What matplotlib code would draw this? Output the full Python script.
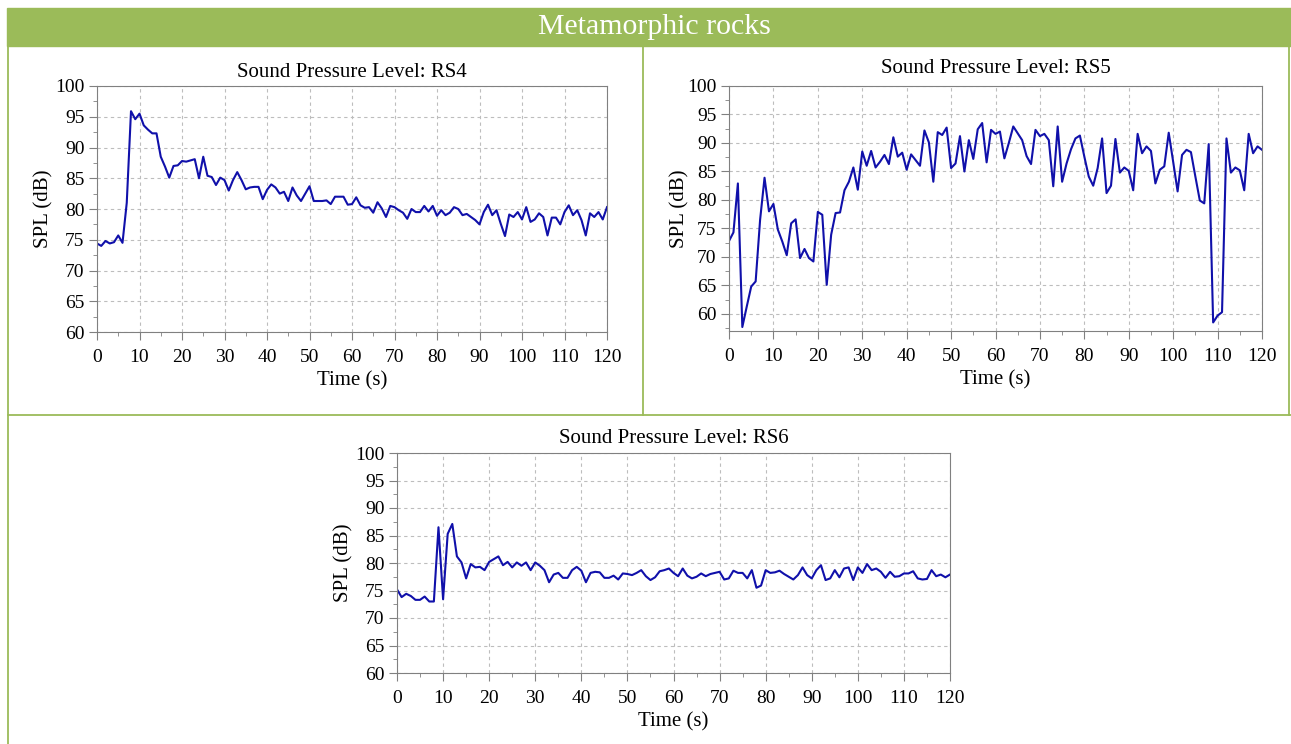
import numpy as np
import matplotlib.pyplot as plt
from matplotlib.lines import Line2D
from matplotlib.patches import Rectangle
from matplotlib.ticker import MultipleLocator

plt.rcParams['font.family'] = ['Liberation Serif', 'DejaVu Serif']

# Time axis: one reading per second
time_s = np.arange(0, 121)

# Sound pressure level readings (dB)
spl_rs4 = [
    74.4, 74.0, 74.8, 74.4, 74.6, 75.7, 74.5, 81.0, 95.9, 94.6,
    95.5, 93.6, 92.9, 92.3, 92.3, 88.5, 86.9, 85.1, 87.0, 87.1,
    87.8, 87.7, 87.9, 88.1, 85.0, 88.5, 85.4, 85.2, 83.9, 85.1,
    84.7, 83.0, 84.7, 86.0, 84.7, 83.2, 83.5, 83.6, 83.6, 81.6,
    83.1, 84.0, 83.5, 82.5, 82.8, 81.3, 83.5, 82.2, 81.3, 82.5,
    83.7, 81.3, 81.3, 81.3, 81.4, 80.8, 82.0, 82.0, 82.0, 80.7,
    80.8, 81.9, 80.6, 80.2, 80.3, 79.4, 81.1, 80.1, 78.7, 80.5,
    80.3, 79.8, 79.4, 78.4, 80.0, 79.5, 79.5, 80.5, 79.6, 80.5,
    78.9, 79.8, 79.0, 79.4, 80.3, 80.0, 79.0, 79.2, 78.7, 78.2,
    77.5, 79.5, 80.7, 79.0, 79.8, 77.6, 75.6, 79.1, 78.7, 79.5,
    78.3, 80.3, 77.9, 78.3, 79.3, 78.7, 75.7, 78.6, 78.6, 77.5,
    79.5, 80.6, 79.0, 79.8, 78.2, 75.7, 79.3, 78.7, 79.5, 78.3,
    80.3,
]

spl_rs5 = [
    72.8, 74.3, 82.9, 57.7, 61.3, 64.8, 65.7, 76.5, 83.9, 78.0,
    79.3, 74.8, 72.7, 70.3, 75.9, 76.6, 69.8, 71.4, 69.8, 69.2,
    77.9, 77.4, 65.1, 73.9, 77.7, 77.8, 81.7, 83.2, 85.7, 81.8,
    88.5, 86.0, 88.6, 85.7, 86.7, 87.9, 86.3, 91.0, 87.6, 88.3,
    85.3, 88.0, 87.0, 86.0, 92.2, 90.1, 83.2, 91.9, 91.4, 92.7,
    85.6, 86.4, 91.2, 85.0, 90.5, 87.2, 92.4, 93.5, 86.6, 92.3,
    91.6, 92.0, 87.3, 90.0, 92.9, 91.7, 90.5, 87.7, 86.3, 92.3,
    91.2, 91.6, 90.5, 82.4, 92.9, 83.2, 86.4, 88.9, 90.8, 91.3,
    87.6, 84.1, 82.5, 85.6, 90.8, 81.2, 82.5, 90.7, 84.8, 85.7,
    85.1, 81.7, 91.6, 88.2, 89.4, 88.6, 82.9, 85.3, 85.9, 91.8,
    86.7, 81.5, 87.9, 88.8, 88.4, 84.1, 79.9, 79.4, 89.8, 58.5,
    59.7, 60.3, 90.8, 84.8, 85.7, 85.2, 81.7, 91.6, 88.2, 89.4,
    88.8,
]

spl_rs6 = [
    75.2, 73.8, 74.4, 74.0, 73.3, 73.3, 73.9, 73.0, 73.0, 86.5,
    73.4, 85.3, 87.1, 81.2, 80.1, 77.2, 79.8, 79.2, 79.3, 78.7,
    80.2, 80.7, 81.2, 79.6, 80.2, 79.2, 80.1, 79.5, 80.1, 78.7,
    80.1, 79.5, 78.7, 76.5, 77.9, 78.2, 77.3, 77.3, 78.7, 79.3,
    78.6, 76.5, 78.2, 78.4, 78.3, 77.3, 77.3, 77.7, 77.0, 78.1,
    78.0, 77.8, 78.2, 78.7, 77.6, 76.9, 77.4, 78.5, 78.7, 79.0,
    78.2, 77.6, 79.0, 77.7, 77.2, 77.5, 78.1, 77.6, 78.0, 78.2,
    78.4, 77.0, 77.2, 78.6, 78.2, 78.2, 77.2, 78.7, 75.5, 75.9,
    78.7, 78.2, 78.3, 78.6, 78.0, 77.5, 77.0, 77.8, 79.2, 77.8,
    77.2, 78.7, 79.6, 76.9, 77.2, 78.7, 77.4, 79.0, 79.2, 76.9,
    79.2, 78.2, 79.8, 78.7, 79.0, 78.4, 77.3, 78.4, 77.5, 77.6,
    78.1, 78.1, 78.5, 77.2, 77.0, 77.1, 78.7, 77.6, 77.9, 77.4,
    77.9,
]

W, H = 1291, 744
fig = plt.figure(figsize=(W / 100, H / 100), dpi=100)

def fx(px):
    return px / W

def fy(py):
    return 1 - py / H

green = '#9BBB59'

# banner and table borders
fig.patches.append(Rectangle((fx(7), fy(46)), fx(W - 7), fy(8) - fy(46),
                             transform=fig.transFigure, color=green, zorder=0))
fig.text(fx(654), fy(27), 'Metamorphic rocks', color='white',
         ha='center', va='center', fontsize=21.5)
border = dict(color=green, lw=1.3, transform=fig.transFigure)
fig.lines.append(Line2D([fx(8), fx(8)], [fy(46), 0], **border))
fig.lines.append(Line2D([fx(643), fx(643)], [fy(46), fy(415)], **border))
fig.lines.append(Line2D([fx(1289), fx(1289)], [fy(46), fy(415)], **border))
fig.lines.append(Line2D([fx(8), 1], [fy(415), fy(415)], **border))

def spl_panel(rect, values, name, ylo, pad, ypad):
    left, top, right, bottom = rect
    ax = fig.add_axes([fx(left), fy(bottom), fx(right - left), fy(top) - fy(bottom)])
    ax.plot(time_s, values, color='#1010AA', lw=1.5)
    ax.set_xlim(0, 120)
    ax.set_ylim(ylo, 100)
    ax.xaxis.set_major_locator(MultipleLocator(10))
    ax.xaxis.set_minor_locator(MultipleLocator(5))
    ax.yaxis.set_major_locator(MultipleLocator(5))
    ax.yaxis.set_minor_locator(MultipleLocator(2.5))
    ax.tick_params(which='major', length=6, color='#808080', labelsize=14, pad=3)
    ax.tick_params(axis='x', which='major', pad=6.5)
    ax.tick_params(which='minor', length=3, color='#808080')
    ax.grid(True, which='major', color='#BDBDBD', linestyle=(0, (3, 3)), lw=0.8)
    for s in ax.spines.values():
        s.set_color('#808080')
    ax.set_title('Sound Pressure Level: ' + name, fontsize=15, pad=pad)
    ax.set_xlabel('Time (s)', fontsize=15, labelpad=3.5)
    ax.set_ylabel('SPL (dB)', fontsize=15, labelpad=ypad)
    return ax

spl_panel((97, 86, 607, 332), spl_rs4, 'RS4', 60, 6.5, 1.5)
spl_panel((729, 86, 1262, 331), spl_rs5, 'RS5', 57, 9.5, -2)
spl_panel((397, 453, 950, 673), spl_rs6, 'RS6', 60, 7, 1.5)

fig.savefig('out.png', dpi=100)
